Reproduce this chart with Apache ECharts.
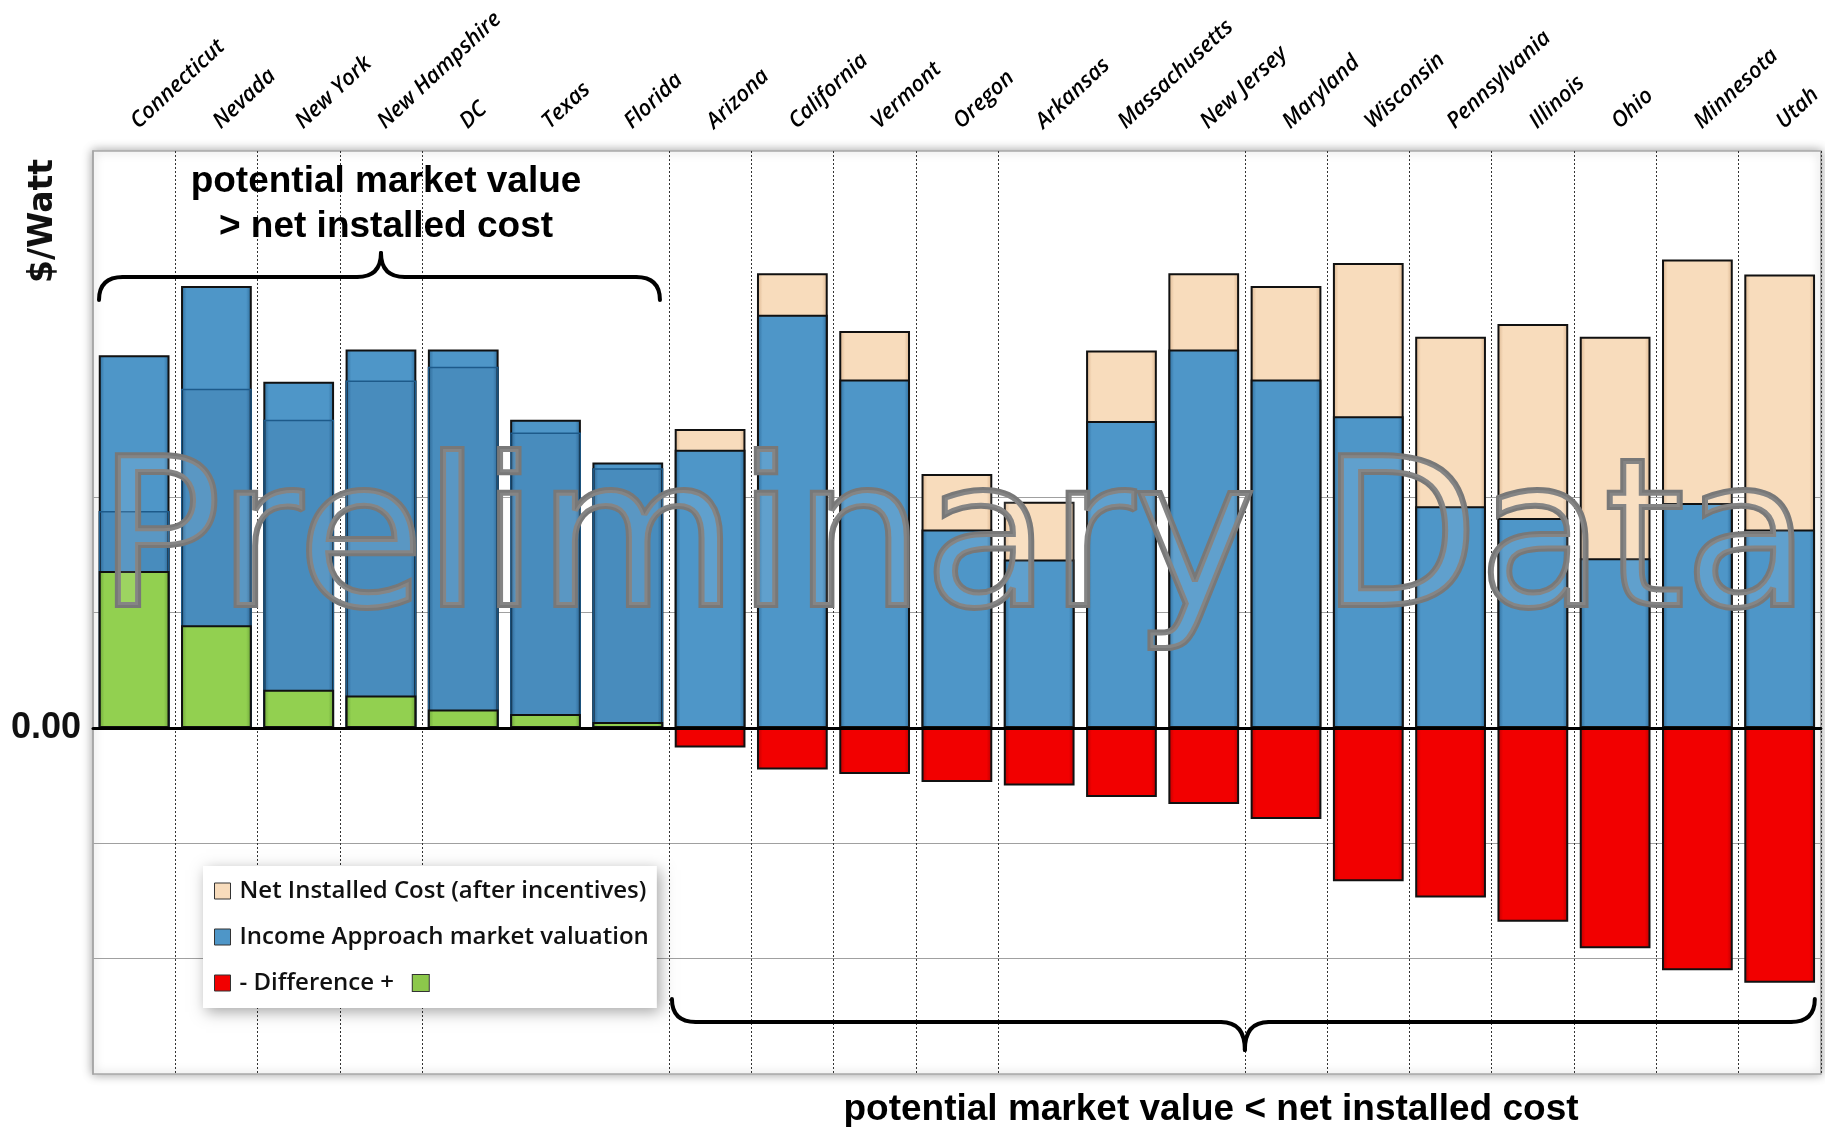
<!DOCTYPE html>
<html>
<head>
<meta charset="utf-8">
<script src="https://cdn.jsdelivr.net/npm/echarts@6/dist/echarts.min.js"></script>
<style>
html,body{margin:0;padding:0;background:#fff;}
#chart{width:1825px;height:1127px;}
</style>
</head>
<body>
<div id="chart"></div>
<script>
// ---- data ($/Watt) ----
const states = ['Connecticut','Nevada','New York','New Hampshire','DC','Texas','Florida','Arizona','California','Vermont','Oregon','Arkansas','Massachusetts','New Jersey','Maryland','Wisconsin','Pennsylvania','Illinois','Ohio','Minnesota','Utah'];
const netInstalledCost = [1.88, 2.94, 2.67, 3.01, 3.13, 2.56, 2.25, 2.59, 3.94, 3.44, 2.20, 1.96, 3.27, 3.94, 3.83, 4.03, 3.39, 3.50, 3.39, 4.06, 3.93];
const marketValuation  = [3.23, 3.83, 3.00, 3.28, 3.28, 2.67, 2.30, 2.41, 3.58, 3.02, 1.72, 1.46, 2.66, 3.28, 3.02, 2.70, 1.92, 1.82, 1.47, 1.95, 1.72];
const difference       = [1.36, 0.89, 0.33, 0.28, 0.16, 0.12, 0.05, -0.17, -0.36, -0.40, -0.47, -0.50, -0.60, -0.66, -0.79, -1.33, -1.47, -1.68, -1.91, -2.10, -2.21];
const yTickLabels = {0: '0.00'};
const seriesNames = ['Net Installed Cost (after incentives)', 'Income Approach market valuation', '- Difference +'];
const annotationTop = ['potential market value', '> net installed cost'];
const annotationBottom = 'potential market value < net installed cost';
const watermark = 'Preliminary Data';

// ---- layout / style ----
const hiddenDividers = [0, 5, 6, 12, 13];
const ANNO = "'Liberation Sans',Arial,sans-serif";
function hgrad(edge, base) {
  return new echarts.graphic.LinearGradient(0, 0, 1, 0, [
    {offset: 0, color: edge}, {offset: 0.08, color: base},
    {offset: 0.92, color: base}, {offset: 1, color: edge}
  ]);
}
const beige = hgrad('#d8b28c', '#f8dcbc');
const blue = hgrad('#2d6a98', '#4e96c8');
const red = hgrad('#b80000', '#f20000');
const green = hgrad('#6aa238', '#92d050');
const none = 'rgba(0,0,0,0)';

const chart = echarts.init(document.getElementById('chart'));
const barW = '86%';
chart.setOption({
  animation: false,
  backgroundColor: '#fff',
  grid: {left: 93, right: -3, top: 151, bottom: 53, show: true, backgroundColor: '#fff',
         borderColor: '#a8a8a8', borderWidth: 1.5, shadowBlur: 10, shadowColor: 'rgba(0,0,0,0.35)'},
  legend: {
    orient: 'vertical', left: 203, top: 866, selectedMode: false,
    data: seriesNames, icon: 'rect', itemWidth: 16, itemHeight: 16, itemGap: 22,
    backgroundColor: '#fff', padding: [13, 8, 13, 11],
    shadowBlur: 14, shadowColor: 'rgba(0,0,0,0.35)', shadowOffsetX: 3, shadowOffsetY: 4,
    itemStyle: {borderColor: '#333', borderWidth: 1},
    textStyle: {fontFamily: "'Open Sans'", fontSize: 24, fontWeight: 600, color: '#111', padding: [0, 0, 0, 4],
      rich: {g: {width: 16, height: 16, backgroundColor: '#8cc84b', borderColor: '#333', borderWidth: 1}}},
    formatter: n => n === seriesNames[2] ? n + '   {g| }' : n
  },
  xAxis: [
    {type: 'category', data: states, position: 'top',
     axisLine: {show: false, onZero: false}, axisTick: {show: false},
     axisLabel: {interval: 0, rotate: -43, margin: 26, fontFamily: "'Open Sans'", fontStyle: 'italic',
                 fontWeight: 600, fontSize: 22, color: '#000'},
     splitLine: {show: true, interval: i => !hiddenDividers.includes(i),
                 lineStyle: {color: '#333', type: [2, 2], width: 1}}},
    {type: 'category', data: states, position: 'bottom', z: 10,
     axisLine: {show: true, onZero: true, lineStyle: {color: '#000', width: 3}},
     axisTick: {show: false}, axisLabel: {show: false}, splitLine: {show: false}}
  ],
  yAxis: {
    type: 'value', min: -3, max: 5, interval: 1,
    axisLine: {show: true, lineStyle: {color: '#a6a6a6', width: 1.5}},
    axisTick: {show: false},
    axisLabel: {formatter: v => yTickLabels[v] || '', fontFamily: ANNO,
                fontWeight: 'bold', fontSize: 36, color: '#111', margin: 12},
    splitLine: {show: true, lineStyle: {width: 1.2,
      color: [none, '#a0a0a0', '#a0a0a0', none, '#a0a0a0', '#a0a0a0', none, none, none]}}
  },
  series: [
    {name: seriesNames[0], type: 'bar', data: netInstalledCost, barWidth: barW, barGap: '-100%', z: 2,
     itemStyle: {color: beige, borderColor: '#111', borderWidth: 2}},
    {name: seriesNames[1], type: 'bar', data: marketValuation, barWidth: barW, barGap: '-100%', z: 3,
     itemStyle: {color: blue, borderColor: '#111', borderWidth: 2}},
    {name: 'cost level', type: 'bar', barWidth: barW, barGap: '-100%', z: 4, silent: true,
     data: netInstalledCost.map((c, i) => c < marketValuation[i] ? c : '-'),
     itemStyle: {color: 'rgba(0,20,60,0.07)', borderColor: '#1d5a8a', borderWidth: 1.5}},
    {name: seriesNames[2], type: 'bar', barWidth: barW, barGap: '-100%', z: 5,
     data: difference.map(d => d >= 0 ? {value: d, itemStyle: {color: green}} : d),
     itemStyle: {color: red, borderColor: '#111', borderWidth: 2}}
  ]
});

// ---- annotations (braces, notes, watermark) placed from the axis scale ----
const cx = i => chart.convertToPixel({xAxisIndex: 0}, i);
const half = (cx(1) - cx(0)) / 2;
function brace(x0, x1, xc, yl, endDy, cuspDy) {
  const r = 24;
  const st = {stroke: '#000', lineWidth: 4, fill: null, lineCap: 'round'};
  const q = (ax, ay, cpx, cpy, bx, by) => ({type: 'bezierCurve', z: 50,
    shape: {x1: ax, y1: ay, cpx1: cpx, cpy1: cpy, x2: bx, y2: by}, style: st});
  const l = (ax, bx) => ({type: 'line', z: 50, shape: {x1: ax, y1: yl, x2: bx, y2: yl}, style: st});
  return [
    q(x0, yl + endDy, x0, yl, x0 + r, yl), l(x0 + r, xc - r),
    q(xc - r, yl, xc, yl, xc, yl + cuspDy), q(xc, yl + cuspDy, xc, yl, xc + r, yl),
    l(xc + r, x1 - r), q(x1 - r, yl, x1, yl, x1, yl + endDy)
  ];
}
const tL = cx(0) - half + 6, tR = cx(6) + half - 9;
const bL = cx(7) - half + 3, bR = Math.min(cx(20) + half - 6, 1821);
chart.setOption({
  graphic: [].concat(
    brace(tL, tR, (cx(0) + cx(6)) / 2, 277, 23, -24),
    brace(bL, bR, (cx(7) + cx(20)) / 2, 1022, -23, 28),
    [
    {type: 'text', z: 50, x: 386, y: 204,
     style: {text: annotationTop.join('\n'), fontFamily: ANNO, fontWeight: 'bold', fontSize: 37,
             lineHeight: 45, fill: '#000', align: 'center', verticalAlign: 'middle'}},
    {type: 'text', z: 50, x: 1211, y: 1110,
     style: {text: annotationBottom, fontFamily: ANNO, fontWeight: 'bold', fontSize: 37,
             fill: '#000', align: 'center', verticalAlign: 'middle'}},
    {type: 'text', z: 50, x: 43, y: 221, rotation: Math.PI / 2,
     style: {text: '$/Watt', fontFamily: "'DejaVu Sans',Verdana,sans-serif", fontWeight: 'bold', fontSize: 33,
             fill: '#111', align: 'center', verticalAlign: 'middle'}},
    {type: 'text', z: 60, x: 954, y: 552,
     style: {text: watermark, fontFamily: "'DejaVu Sans',Verdana,sans-serif", fontSize: 205,
             fill: 'rgba(255,255,255,0.10)', stroke: '#787878', lineWidth: 6,
             shadowBlur: 6, shadowColor: 'rgba(0,0,0,0.35)', shadowOffsetY: 2,
             align: 'center', verticalAlign: 'middle'}}
    ])
});
</script>
</body>
</html>
